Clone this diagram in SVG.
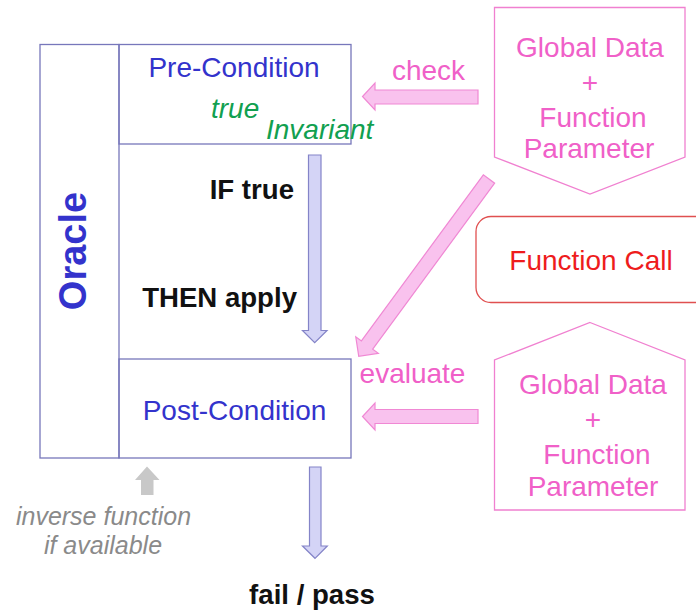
<svg xmlns="http://www.w3.org/2000/svg" width="696" height="611" viewBox="0 0 696 611">
<style>
.box{fill:none;stroke:#7777bb;stroke-width:1.3}
.pent{fill:#ffffff;stroke:#f080d0;stroke-width:1.3}
.pk{font-family:"Liberation Sans",Arial,sans-serif;font-size:28px;fill:#f060c8;text-anchor:middle}
.bl{font-family:"Liberation Sans",Arial,sans-serif;font-size:28px;fill:#3333cc}
.gr{font-family:"Liberation Sans",Arial,sans-serif;font-size:28px;fill:#11a050;font-style:italic}
.bk{font-family:"Liberation Sans",Arial,sans-serif;font-size:27.6px;font-weight:bold;fill:#111111}
.gy{font-family:"Liberation Sans",Arial,sans-serif;font-size:25px;font-style:italic;fill:#8a8a8a;text-anchor:middle}
.parrow{fill:#f9c2ee;stroke:#f088d4;stroke-width:1.2}
.barrow{fill:#d4d4f6;stroke:#8484c8;stroke-width:1.2}
</style>
<rect width="696" height="611" fill="#ffffff"/>
<g id="oracle">
<rect class="box" x="40" y="44.5" width="79" height="413.5"/>
<text class="bl" transform="translate(86,251) rotate(-90)" text-anchor="middle" style="font-size:38px;font-weight:bold">Oracle</text>
</g>
<g id="pre-condition">
<rect class="box" x="119" y="44.5" width="232" height="99.5"/>
<text class="bl" x="234" y="77" text-anchor="middle">Pre-Condition</text>
<text class="gr" x="211" y="118">true</text>
<text class="gr" x="266" y="139">Invariant</text>
</g>
<g id="if-then">
<text class="bk" x="294" y="199" text-anchor="end">IF true</text>
<text class="bk" x="297" y="307" text-anchor="end">THEN apply</text>
</g>
<g id="post-condition">
<rect class="box" x="119" y="359" width="232" height="99"/>
<text class="bl" x="234.5" y="420" text-anchor="middle">Post-Condition</text>
</g>
<g id="global-top">
<polygon class="pent" points="494.5,7.5 685,7.5 685,157 590,194 494.5,157"/>
<text class="pk" x="590" y="57">Global Data</text>
<text class="pk" x="590" y="92">+</text>
<text class="pk" x="593" y="127">Function</text>
<text class="pk" x="589" y="158">Parameter</text>
</g>
<g id="function-call">
<rect x="476" y="216.5" width="240" height="86" rx="15" ry="15" fill="#ffffff" stroke="#e05050" stroke-width="1.3"/>
<text x="591" y="270" text-anchor="middle" style="font-family:'Liberation Sans',Arial,sans-serif;font-size:28px;fill:#ee1c1c">Function Call</text>
</g>
<g id="global-bottom">
<polygon class="pent" points="590,322.5 685,360 685,510 494.5,510 494.5,360"/>
<text class="pk" x="593" y="394">Global Data</text>
<text class="pk" x="593" y="429">+</text>
<text class="pk" x="597" y="464">Function</text>
<text class="pk" x="593" y="496">Parameter</text>
</g>
<g id="connectors">
<polygon class="parrow" points="478,90 375,90 375,83 362.5,96.5 375,110 375,104 478,104"/>
<polygon class="parrow" points="478,409.5 375,409.5 375,403 362.5,416.5 375,430 375,423.5 478,423.5"/>
<polygon class="parrow" transform="translate(489,179) rotate(126.3)" points="0,-7 206,-7 206,-14 220,0 206,14 206,7 0,7"/>
<polygon class="barrow" points="308.5,155 321,155 321,330.5 327,330.5 314.7,342.7 302.5,330.5 308.5,330.5"/>
<polygon class="barrow" points="309.5,467 321,467 321,546 327.3,546 315,558.3 302.5,546 309.5,546"/>
<polygon points="147,466.5 159.5,480 153.5,480 153.5,495 141,495 141,480 135,480" fill="#c8c8c8"/>
</g>
<g id="labels">
<text class="pk" x="428.5" y="80">check</text>
<text class="pk" x="412.5" y="383">evaluate</text>
<text class="gy" x="103.5" y="525">inverse function</text>
<text class="gy" x="103" y="554">if available</text>
<text class="bk" x="312" y="604" text-anchor="middle">fail / pass</text>
</g>
</svg>
